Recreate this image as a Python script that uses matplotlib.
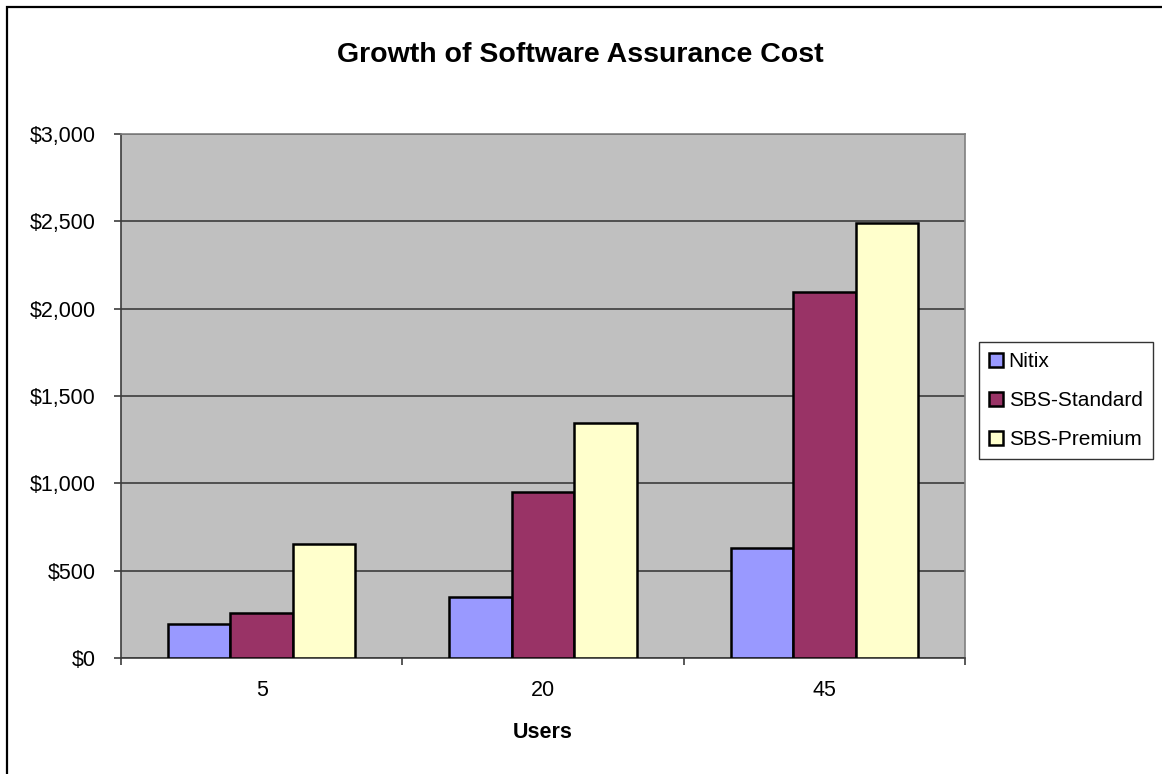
import matplotlib
matplotlib.use("Agg")
import matplotlib.pyplot as plt
from matplotlib.patches import Rectangle
from matplotlib.ticker import FuncFormatter
import numpy as np

plt.rcParams['font.family'] = ['Liberation Sans', 'DejaVu Sans']

# data
users = ["5", "20", "45"]
series_names = ["Nitix", "SBS-Standard", "SBS-Premium"]
nitix = [195, 350, 630]
sbs_standard = [260, 950, 2095]
sbs_premium = [650, 1345, 2490]
colors = ["#9999FF", "#993366", "#FFFFCC"]

W, H = 1162, 774
fig = plt.figure(figsize=(W / 100, H / 100), dpi=100)
ax = fig.add_axes([121 / W, 1 - 658 / H, (965 - 121) / W, (658 - 134) / H])
ax.set_facecolor("#C0C0C0")

x = np.arange(len(users))
bw = 1 / 4.5
for i, (name, vals) in enumerate(zip(series_names, [nitix, sbs_standard, sbs_premium])):
    ax.bar(x + (i - 1) * bw, vals, width=bw, color=colors[i], edgecolor="black",
           linewidth=1.8, label=name, zorder=3)

ax.set_xlim(-0.5, len(users) - 0.5)
ax.set_ylim(0, 3000)
ax.set_yticks(np.arange(0, 3001, 500))
ax.yaxis.set_major_formatter(FuncFormatter(lambda v, p: "${:,.0f}".format(v)))
ax.yaxis.grid(True, color="#3c3c3c", linewidth=1.2, zorder=1)
ax.set_axisbelow(True)

# category labels between boundary ticks, like excel
ax.set_xticks(np.arange(-0.5, len(users), 1.0))
ax.set_xticklabels([])
ax.set_xticks(x, minor=True)
ax.set_xticklabels(users, minor=True)
ax.tick_params(axis="x", which="minor", length=0, pad=16, labelsize=15.5)
ax.tick_params(axis="x", which="major", length=5, width=1.2, color="#3c3c3c", direction="out")
ax.tick_params(axis="y", length=5, width=1.2, color="#3c3c3c", pad=13, labelsize=15.5)

for s in ["left", "bottom"]:
    ax.spines[s].set_color("#3c3c3c")
    ax.spines[s].set_linewidth(1.2)
for s in ["top", "right"]:
    ax.spines[s].set_color("#808080")
    ax.spines[s].set_linewidth(1.2)

ax.set_xlabel("Users", fontsize=15.5, fontweight="bold", labelpad=15)
fig.text(580 / W, 1 - 55 / H, "Growth of Software Assurance Cost",
         ha="center", va="center", fontsize=20.5, fontweight="bold")

leg = fig.legend(loc="upper left", bbox_to_anchor=(979 / W, 1 - 342 / H), fontsize=15,
                 frameon=True, fancybox=False, borderpad=0.5, labelspacing=0.95,
                 handlelength=0.67, handleheight=0.67, handletextpad=0.25,
                 borderaxespad=0)
leg.get_frame().set_edgecolor("black")
leg.get_frame().set_linewidth(1.0)

# outer chart border (runs off the right and bottom edges)
fig.patches.append(Rectangle((7 / W, -0.1), 1.2, 1 - 7 / H + 0.1, transform=fig.transFigure,
                             fill=False, edgecolor="black", linewidth=1.6, clip_on=False))

fig.savefig("out.png", dpi=100)
